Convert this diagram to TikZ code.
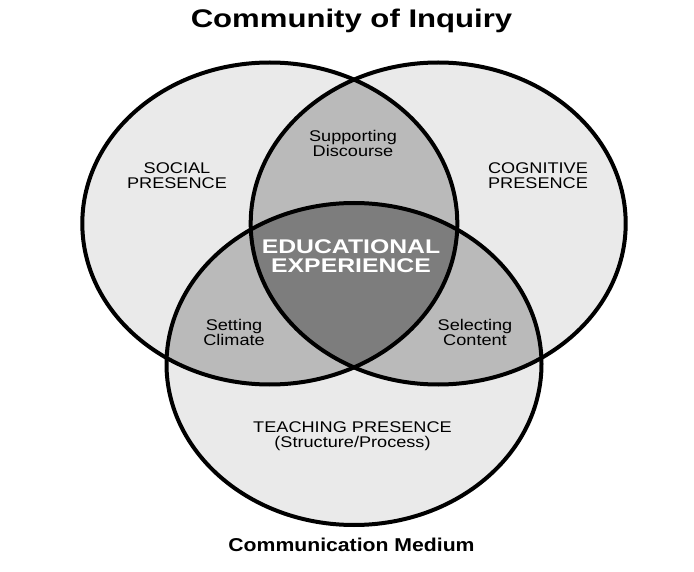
\documentclass[tikz,border=0pt]{standalone}
\usepackage{fontspec}
\setmainfont{Liberation Sans}
\definecolor{lightc}{HTML}{EAEAEA}
\definecolor{midc}{HTML}{BABABA}
\definecolor{darkc}{HTML}{7D7D7D}
\begin{document}
\begin{tikzpicture}[x=1pt,y=-1pt,
  ring/.style={draw=black,line width=4pt},
  lbl/.style={font=\fontsize{15.5}{14.8}\selectfont,align=center,inner sep=0pt,xscale=1.17},
  core/.style={font=\bfseries\fontsize{19.8}{19}\selectfont,align=center,inner sep=0pt,xscale=1.25,text=white},
  heading/.style={font=\bfseries\fontsize{25.5}{26}\selectfont,inner sep=0pt,anchor=base,xscale=1.22},
  footing/.style={font=\bfseries\fontsize{18.6}{19}\selectfont,inner sep=0pt,anchor=base,xscale=1.14}]
\useasboundingbox[fill=white] (0,0) rectangle (694,572);
\def\EL{(269.8,223.5) ellipse [x radius=187.5pt, y radius=161pt]}
\def\ER{(438.2,223.5) ellipse [x radius=187.5pt, y radius=161pt]}
\def\EB{(354,364) ellipse [x radius=187.5pt, y radius=161pt]}
% base fills
\fill[lightc] \EL;
\fill[lightc] \ER;
\fill[lightc] \EB;
% pairwise overlaps
\begin{scope}
  \clip \EL;
  \fill[midc] \ER;
  \fill[midc] \EB;
\end{scope}
\begin{scope}
  \clip \ER;
  \fill[midc] \EB;
\end{scope}
% triple overlap
\begin{scope}
  \clip \EL;
  \clip \ER;
  \fill[darkc] \EB;
\end{scope}
% outlines
\draw[ring] \EL;
\draw[ring] \ER;
\draw[ring] \EB;
% texts
\node[heading] (title) at (351.5,28) {Community of Inquiry};
\node[lbl] (social) at (177,175.5) {SOCIAL\\PRESENCE};
\node[lbl] (cognitive) at (538,175.5) {COGNITIVE\\PRESENCE};
\node[lbl] (discourse) at (353,143.3) {Supporting\\Discourse};
\node[core] (experience) at (351,256.5) {EDUCATIONAL\\EXPERIENCE};
\node[lbl] (climate) at (234,332.8) {Setting\\Climate};
\node[lbl] (content) at (475,332.8) {Selecting\\Content};
\node[lbl] (teaching) at (352.5,436.4) {TEACHING PRESENCE\\(Structure/Process)};
\node[footing] (medium) at (351.5,551.7) {Communication Medium};
\end{tikzpicture}
\end{document}
